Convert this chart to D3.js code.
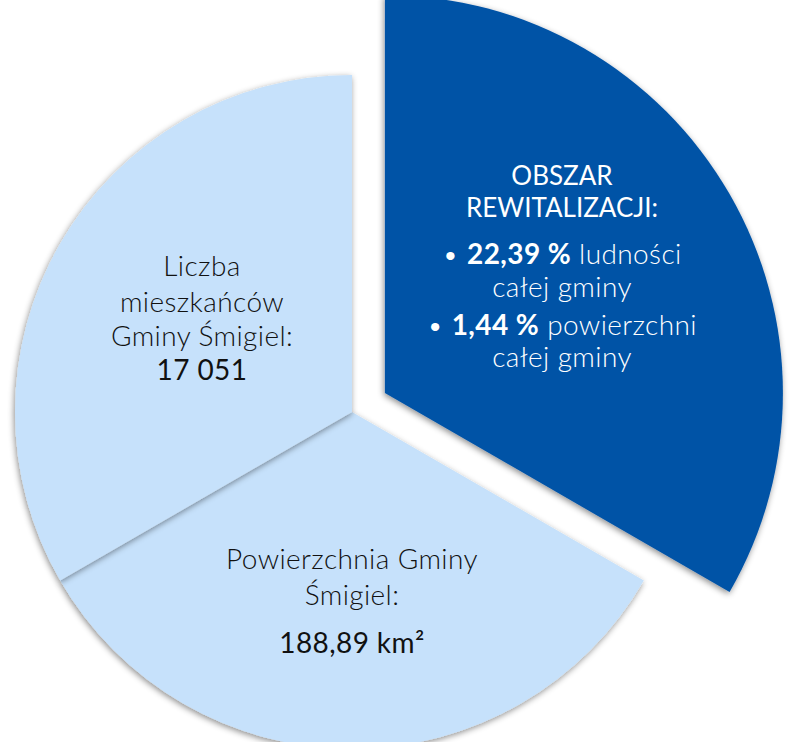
<!DOCTYPE html>
<html>
<head>
<meta charset="utf-8">
<script src="https://cdn.jsdelivr.net/npm/d3@7"></script>
<style>
  body { margin: 0; background: #fff; }
  svg text { font-family: Lato, "Open Sans", sans-serif; }
</style>
</head>
<body>
<svg id="chart" width="789" height="742"></svg>
<script>
const width = 789;
const height = 742;

// slices, clockwise from 12 o'clock
const sliceNames = ["Obszar rewitalizacji", "Powierzchnia Gminy Śmigiel", "Liczba mieszkańców Gminy Śmigiel"];
const sliceValues = [1, 1, 1];

// label text, one array of lines per slice; "*" marks bold parts, "#" marks regular-weight values
const regenLines = ["OBSZAR", "REWITALIZACJI:", "• *22,39 %* ludności", "całej gminy", "• *1,44 %* powierzchni", "całej gminy"];
const areaLines = ["Powierzchnia Gminy", "Śmigiel:", "#188,89 km²#"];
const peopleLines = ["Liczba", "mieszkańców", "Gminy Śmigiel:", "#17 051#"];

const center = { x: 352, y: 412 };
const radius = 337;
const explodeDist = 38;
const explodedRadius = 398;
const colors = ["#0053a6", "#c6e1fb", "#c6e1fb"];

// label anchor (relative to centre) and baseline offsets
const labelPos = [
  { x: 210, y: -227, dy: [0, 32, 79, 112, 150, 182], fill: "#fff" },
  { x: 0, y: 157, dy: [0, 36, 84], fill: "#111" },
  { x: -150, y: -136, dy: [0, 36, 70, 104], fill: "#111" }
];
const labelLines = [regenLines, areaLines, peopleLines];

const svg = d3.select("#chart");

const defs = svg.append("defs");
const f = defs.append("filter").attr("id", "shadow")
  .attr("x", "-20%").attr("y", "-20%").attr("width", "140%").attr("height", "140%");
f.append("feDropShadow")
  .attr("dx", -1).attr("dy", 2).attr("stdDeviation", 3)
  .attr("flood-color", "#000").attr("flood-opacity", 0.45);

const pie = d3.pie().sort(null).value(d => d)(sliceValues);

const arc = d3.arc().innerRadius(0).outerRadius(radius);
const bigArc = d3.arc().innerRadius(0).outerRadius(explodedRadius);

const g = svg.append("g").attr("transform", `translate(${center.x},${center.y})`);

// draw order: bottom, left, then the exploded one on top
[1, 2, 0].forEach(i => {
  const p = pie[i];
  let dx = 0, dy = 0;
  if (i === 0) {
    const mid = (p.startAngle + p.endAngle) / 2;
    dx = Math.sin(mid) * explodeDist;
    dy = -Math.cos(mid) * explodeDist;
  }
  g.append("path")
    .attr("d", i === 0 ? bigArc(p) : arc(p))
    .attr("transform", `translate(${dx},${dy})`)
    .attr("fill", colors[i])
    .attr("filter", "url(#shadow)")
    .append("title").text(sliceNames[i]);
});

// labels
labelLines.forEach((lines, i) => {
  const pos = labelPos[i];
  const t = g.append("text")
    .attr("text-anchor", "middle")
    .attr("fill", pos.fill);
  lines.forEach((line, j) => {
    const heading = i === 0 && j < 2;
    const row = t.append("tspan").attr("x", pos.x).attr("y", pos.y + pos.dy[j])
      .style("font-size", heading ? "26px" : "28px")
      .style("letter-spacing", heading ? "0px" : "0.4px");
    line.split(/([*#])/).reduce((state, part) => {
      if (part === "*") return state === "b" ? "" : "b";
      if (part === "#") return state === "v" ? "" : "v";
      if (part) {
        row.append("tspan")
          .attr("font-weight", state === "b" ? 700 : (state === "v" || heading ? 400 : 300))
          .text(part);
      }
      return state;
    }, "");
  });
});
</script>
</body>
</html>
